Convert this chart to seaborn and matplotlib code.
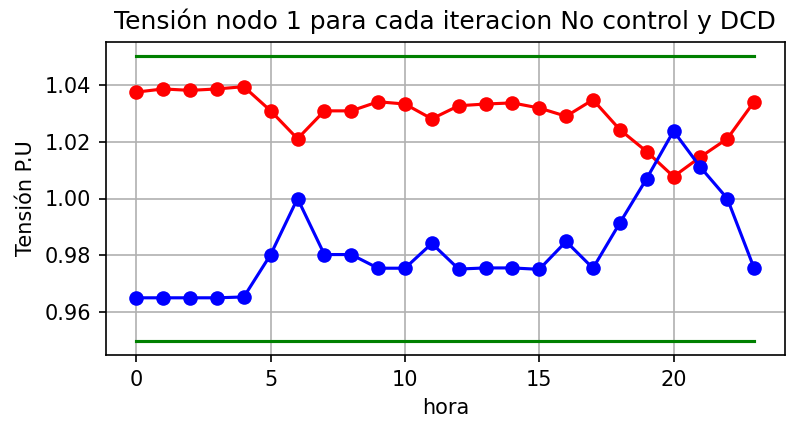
import matplotlib
matplotlib.use("Agg")
import matplotlib.pyplot as plt
import seaborn as sns

hora = list(range(24))
dcd = [1.0374, 1.0385, 1.0380, 1.0385, 1.0393, 1.0308, 1.0210, 1.0308, 1.0308, 1.0340,
       1.0332, 1.0280, 1.0326, 1.0332, 1.0336, 1.0318, 1.0289, 1.0347, 1.0242, 1.0165,
       1.0077, 1.0146, 1.0210, 1.0340]
no_control = [0.9651, 0.9651, 0.9651, 0.9651, 0.9654, 0.9803, 1.0000, 0.9803, 0.9803, 0.9755,
              0.9755, 0.9842, 0.9752, 0.9756, 0.9756, 0.9751, 0.9849, 0.9755, 0.9914, 1.0070,
              1.0237, 1.0110, 1.0000, 0.9755]
lim_sup = [1.05] * 24
lim_inf = [0.95] * 24

title = "Tensión nodo 1 para cada iteracion No control y DCD"
xlabel = "hora"
ylabel = "Tensión P.U"

DPI = 150
fig = plt.figure(figsize=(786 / DPI, 422 / DPI), dpi=DPI)
ax = fig.add_axes([105.5/786, 1-355/422, (785-105.5)/786, (355-42)/422])

sns.lineplot(x=hora, y=dcd, ax=ax, color="red", marker="o", markersize=7,
             markeredgecolor="red", markeredgewidth=0, linewidth=1.5)
sns.lineplot(x=hora, y=no_control, ax=ax, color="blue", marker="o", markersize=7,
             markeredgecolor="blue", markeredgewidth=0, linewidth=1.5)
sns.lineplot(x=hora, y=lim_sup, ax=ax, color="green", linewidth=1.5)
sns.lineplot(x=hora, y=lim_inf, ax=ax, color="green", linewidth=1.5)

ax.grid(True, color="#b0b0b0", linewidth=0.8)
ax.set_axisbelow(True)
ax.set_xticks([0, 5, 10, 15, 20])
ax.set_yticks([0.96, 0.98, 1.00, 1.02, 1.04])
ax.tick_params(labelsize=10)
ax.set_title(title, fontsize=12)
ax.set_xlabel(xlabel, fontsize=10)
ax.set_ylabel(ylabel, fontsize=10)

fig.savefig("out.png", dpi=DPI)
